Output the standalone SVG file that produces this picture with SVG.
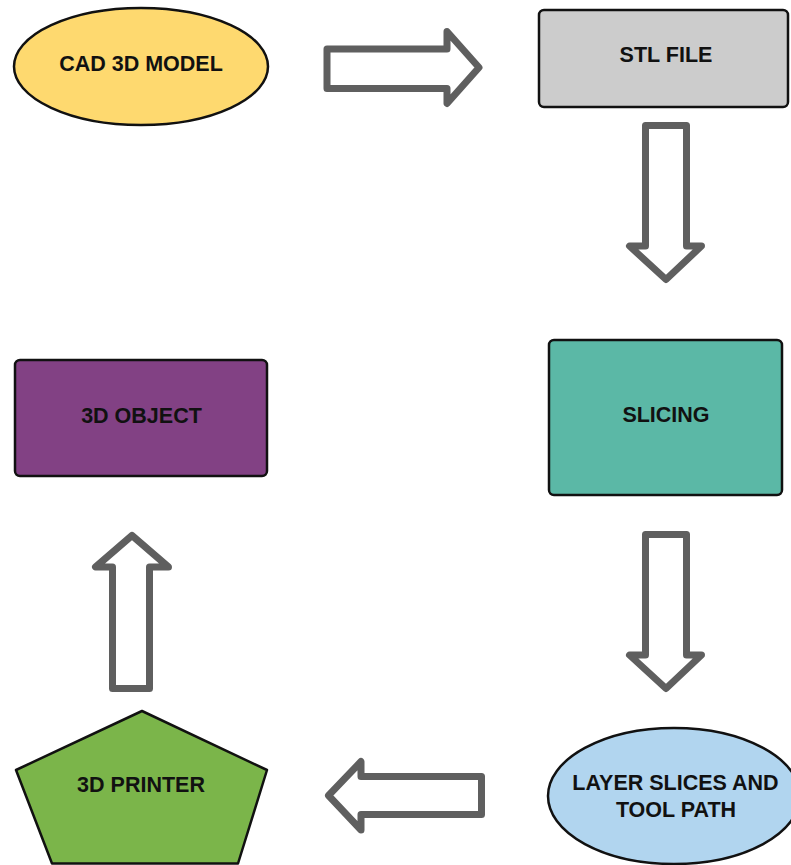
<svg xmlns="http://www.w3.org/2000/svg" width="791" height="865" viewBox="0 0 791 865">
<style>
.node{stroke:#111;stroke-width:2.5;stroke-linejoin:round}
.lbl{font-family:"Liberation Sans",Arial,sans-serif;font-weight:bold;font-size:21.5px;fill:#111;text-anchor:middle}
.arr{fill:#fff;stroke:#5f5f5f;stroke-width:7;stroke-linejoin:round}
</style>
<rect width="791" height="865" fill="#fff"/>
<g id="connectors">
<path class="arr" d="M327 49 L447 49 L447 31.5 L479 67.5 L447 103.5 L447 88.5 L327 88.5 Z"/>
<path class="arr" d="M645.5 125.5 L686.5 125.5 L686.5 246 L701.5 246 L666 279.5 L629.5 246 L645.5 246 Z"/>
<path class="arr" d="M645.5 534.5 L686.5 534.5 L686.5 655 L701.5 655 L666 688.5 L629.5 655 L645.5 655 Z"/>
<path class="arr" d="M481.5 776.5 L481.5 814.5 L361 814.5 L361 830 L328.5 795.5 L361 761.5 L361 776.5 Z"/>
<path class="arr" d="M112.5 688.5 L149.5 688.5 L149.5 567 L168.5 567 L132 535.5 L95.5 567 L112.5 567 Z"/>
</g>
<g id="cad">
<ellipse class="node" cx="141" cy="66.5" rx="127" ry="58.5" fill="#fed96f"/>
<text class="lbl" x="141" y="71">CAD 3D MODEL</text>
</g>
<g id="stl">
<rect class="node" x="539" y="10" width="249" height="97" rx="5" fill="#cccccc"/>
<text class="lbl" x="666" y="62">STL FILE</text>
</g>
<g id="slicing">
<rect class="node" x="549" y="340" width="233" height="155" rx="5" fill="#5bb8a6"/>
<text class="lbl" x="666" y="422">SLICING</text>
</g>
<g id="object">
<rect class="node" x="15" y="360" width="252" height="116" rx="5" fill="#824184"/>
<text class="lbl" x="141.5" y="423">3D OBJECT</text>
</g>
<g id="printer">
<polygon class="node" points="142,711 267,770 238,863.5 52,863.5 16,770" fill="#7bb54a"/>
<text class="lbl" x="141" y="792">3D PRINTER</text>
</g>
<g id="layers">
<ellipse class="node" cx="674" cy="796" rx="126" ry="68" fill="#b1d5ef"/>
<text class="lbl" x="675.5" y="790">LAYER SLICES AND</text>
<text class="lbl" x="676" y="817">TOOL PATH</text>
</g>
</svg>
